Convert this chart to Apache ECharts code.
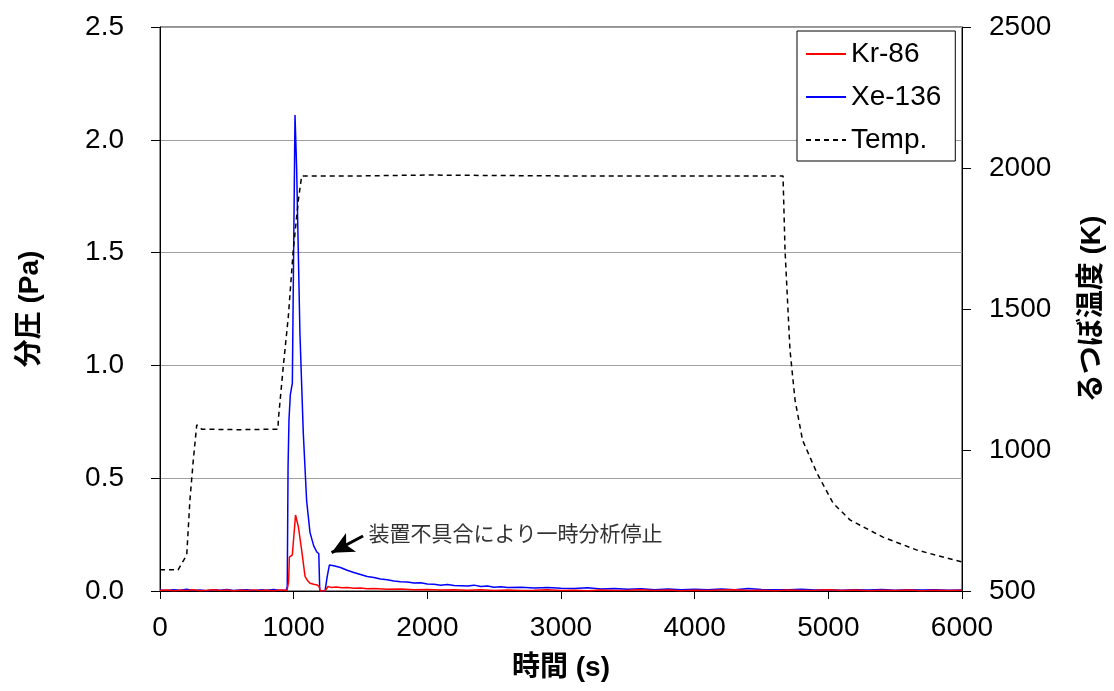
<!DOCTYPE html>
<html><head><meta charset="utf-8">
<script src="https://cdn.jsdelivr.net/npm/echarts@6/dist/echarts.min.js"></script>
<style>html,body{margin:0;padding:0;background:#fff}#c{width:1114px;height:691px}</style>
</head><body><div id="c"></div><script>
// ---- data ----
var xTicks = [0, 1000, 2000, 3000, 4000, 5000, 6000];
var leftTicks = [0.0, 0.5, 1.0, 1.5, 2.0, 2.5];
var rightTicks = [500, 1000, 1500, 2000, 2500];

var xeTime = [0,50,100,150,200,250,300,350,400,450,500,550,600,650,700,750,800,850,900,945,
  952,958,965,975,990,1010,1022,1047,1072,1097,1122,1150,1172,1188,1195,1210,1235,1250,1267,
  1300,1350,1400,1450,1500,1550,1600,1650,1700,1750,1800,1850,1900,1950,2000,2050,2100,2150,2200,2250,
  2300,2350,2400,2450,2500,2550,2600,2700,2800,2900,3000,3100,3200,3300,3400,3500,3600,3700,3800,3900,
  4000,4100,4200,4300,4400,4500,4600,4700,4800,4900,5000,5100,5200,5300,5400,5500,5600,5700,5800,5900,6000];
var xeValue = [0.004,0.002,0.006,0.003,0.008,0.002,0.005,0.001,0.006,0.003,0.007,0.002,0.004,0.006,0.002,0.005,0.003,0.007,0.002,0.004,
  0.02,0.55,0.76,0.87,0.92,2.11,1.88,1.14,0.70,0.40,0.26,0.20,0.174,0.165,0.004,0.0,0.002,0.06,0.115,
  0.112,0.104,0.092,0.082,0.073,0.064,0.060,0.053,0.050,0.044,0.041,0.040,0.035,0.037,0.031,0.030,0.026,0.029,0.024,0.023,
  0.022,0.026,0.020,0.022,0.017,0.019,0.015,0.017,0.013,0.015,0.012,0.011,0.014,0.009,0.011,0.008,0.010,0.006,0.009,0.005,
  0.008,0.005,0.009,0.006,0.011,0.007,0.006,0.005,0.008,0.004,0.006,0.003,0.006,0.004,0.007,0.003,0.005,0.004,0.006,0.003,0.004];

var krTime = [0,50,100,150,200,250,300,350,400,450,500,550,600,650,700,750,800,850,900,950,
  962,968,980,990,1014,1035,1060,1085,1105,1122,1150,1175,1190,1200,1235,1257,
  1280,1320,1360,1400,1450,1500,1550,1600,1700,1800,1900,2000,2100,2200,2300,2400,2500,
  2600,2700,2800,2900,3000,3100,3200,3300,3400,3500,3600,3700,3800,3900,4000,4100,4200,4300,4400,
  4500,4600,4700,4800,4900,5000,5100,5200,5300,5400,5500,5600,5700,5800,5900,6000];
var krValue = [0.002,0.004,0.001,0.003,0.002,0.006,0.001,0.003,0.006,0.002,0.004,0.001,0.003,0.002,0.005,0.002,0.003,0.001,0.004,0.002,
  0.04,0.15,0.145,0.16,0.337,0.285,0.18,0.065,0.045,0.034,0.030,0.027,0.020,0.0,0.001,0.020,
  0.016,0.018,0.014,0.015,0.012,0.013,0.010,0.011,0.008,0.009,0.006,0.007,0.004,0.005,0.003,0.005,0.002,
  0.004,0.002,0.003,0.005,0.002,0.003,0.001,0.004,0.002,0.003,0.005,0.002,0.004,0.001,0.003,0.002,0.004,0.006,0.002,
  0.003,0.001,0.004,0.002,0.003,0.005,0.002,0.004,0.001,0.003,0.002,0.004,0.001,0.003,0.002,0.003];

var tempTime = [0,135,200,224,249,275,287,312,600,883,885,922,960,997,1035,1060,1500,2000,3000,4000,4661,4676,4713,4751,4807,4915,5035,5162,5409,5663,6000];
var tempValue = [575,575,628,823,964,1089,1096,1074,1072,1074,1106,1295,1473,1709,1886,1972,1972,1975,1972,1972,1972,1709,1355,1177,1035,918,812,752,691,645,603];

var seriesNames = ['Kr-86', 'Xe-136', 'Temp.'];
var noteText = '装置不具合により一時分析停止';
var arrowFrom = [1519, 0.244];
var arrowTo = [1284, 0.170];
var notePos = [1556, 0.257];

function pairs(t, v) { return t.map(function (x, i) { return [x, v[i]]; }); }
function plain(v) { return String(v); }

var FONT = 'Liberation Sans, Arial, Noto Sans CJK JP';
var chart = echarts.init(document.getElementById('c'));
chart.setOption({
  animation: false,
  backgroundColor: '#fff',
  textStyle: { fontFamily: FONT, color: '#000' },
  grid: { left: 160, right: 152, top: 27, bottom: 100, show: true, borderColor: '#222', borderWidth: 1 },
  legend: {
    orient: 'vertical', left: 797, top: 31,
    data: seriesNames,
    itemWidth: 40, itemHeight: 14, itemGap: 13,
    padding: [8, 14, 6, 8],
    borderColor: '#000', borderWidth: 1, backgroundColor: '#fff',
    itemStyle: { opacity: 0 },
    textStyle: { fontSize: 28, fontFamily: FONT, color: '#000', lineHeight: 30 }
  },
  xAxis: {
    type: 'value', min: xTicks[0], max: xTicks[xTicks.length - 1], interval: 1000,
    name: '時間 (s)', nameLocation: 'middle', nameGap: 63,
    nameTextStyle: { fontSize: 28, fontWeight: 'bold', fontFamily: FONT, color: '#000' },
    axisLine: { onZero: false, lineStyle: { color: '#000', width: 1 } },
    axisTick: { inside: false, length: 8, lineStyle: { color: '#000' } },
    axisLabel: { fontSize: 28, color: '#000', margin: 23, fontFamily: FONT, formatter: plain },
    splitLine: { show: false }
  },
  yAxis: [{
    type: 'value', min: leftTicks[0], max: leftTicks[leftTicks.length - 1], interval: 0.5,
    name: '分圧 (Pa)', nameLocation: 'middle', nameGap: 116, nameRotate: 90,
    nameTextStyle: { fontSize: 28, fontWeight: 'bold', fontFamily: FONT, color: '#000' },
    axisLine: { show: true, lineStyle: { color: '#000', width: 1 } },
    axisTick: { show: true, inside: false, length: 9, lineStyle: { color: '#000' } },
    axisLabel: { fontSize: 28, color: '#000', margin: 36, fontFamily: FONT, formatter: function (v) { return v.toFixed(1); } },
    splitLine: { show: true, lineStyle: { color: '#a0a0a0', width: 1 } }
  }, {
    type: 'value', min: rightTicks[0], max: rightTicks[rightTicks.length - 1], interval: 500,
    position: 'right',
    name: 'るつぼ温度 (K)', nameLocation: 'middle', nameGap: 116, nameRotate: 90,
    nameTextStyle: { fontSize: 28, fontWeight: 'bold', fontFamily: FONT, color: '#000' },
    axisLine: { show: true, lineStyle: { color: '#000', width: 1 } },
    axisTick: { show: true, inside: false, length: 9, lineStyle: { color: '#000' } },
    axisLabel: { fontSize: 28, color: '#000', margin: 27, fontFamily: FONT, formatter: plain },
    splitLine: { show: false }
  }],
  series: [{
    name: seriesNames[0], type: 'line', data: pairs(krTime, krValue),
    showSymbol: false, symbol: 'none', lineStyle: { color: '#ff0000', width: 1.5 }, itemStyle: { color: '#ff0000' }, z: 3
  }, {
    name: seriesNames[1], type: 'line', data: pairs(xeTime, xeValue),
    showSymbol: false, symbol: 'none', lineStyle: { color: '#0000ff', width: 1.5 }, itemStyle: { color: '#0000ff' }, z: 2,
    markLine: {
      silent: true, symbol: ['none', 'arrow'], symbolSize: [16, 22],
      label: { show: false },
      lineStyle: { color: '#000', width: 3, type: 'solid' },
      data: [[{ coord: arrowFrom }, { coord: arrowTo }]]
    },
    markPoint: {
      silent: true, symbol: 'circle', symbolSize: 1, itemStyle: { color: 'rgba(0,0,0,0)' },
      label: { show: true, position: 'right', distance: 0, formatter: noteText, fontSize: 21, color: '#333', fontFamily: 'Noto Sans CJK JP' },
      data: [{ coord: notePos }]
    }
  }, {
    name: seriesNames[2], type: 'line', yAxisIndex: 1, data: pairs(tempTime, tempValue),
    showSymbol: false, symbol: 'none', lineStyle: { color: '#000', width: 1.5, type: [5, 4] }, itemStyle: { color: '#000' }, z: 4
  }]
});
</script></body></html>
